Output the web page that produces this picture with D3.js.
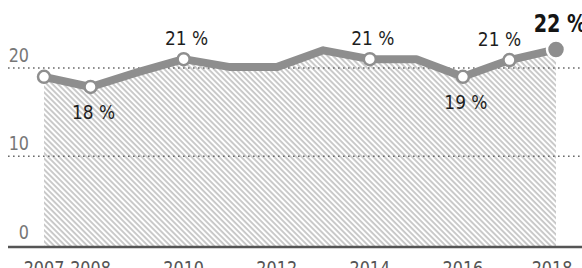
<!DOCTYPE html>
<html>
<head>
<meta charset="utf-8">
<script src="https://cdn.jsdelivr.net/npm/d3@7"></script>
<style>
  body { margin: 0; background: #fff; }
  svg { display: block; font-family: "DejaVu Sans", sans-serif; }
</style>
</head>
<body>
<div id="chart"></div>
<script>
// data
const years = [2007, 2008, 2009, 2010, 2011, 2012, 2013, 2014, 2015, 2016, 2017, 2018]
const values = [19.0, 17.85, 19.5, 21.0, 20.1, 20.1, 22.0, 21.0, 21.0, 19.0, 20.9, 22.1]
const markerYears = [2007, 2008, 2010, 2014, 2016, 2017]
const highlightYear = 2018
const valueLabels = [
    { year: 2008, text: "18 %", pos: "below" },
    { year: 2010, text: "21 %", pos: "above" },
    { year: 2014, text: "21 %", pos: "above" },
    { year: 2016, text: "19 %", pos: "below" },
    { year: 2017, text: "21 %", pos: "above" },
    { year: 2018, text: "22 %", pos: "top" }
]
const yTicks = [0, 10, 20]
const xTickLabels = [
    { at: 2007.5, text: "2007-2008" },
    { at: 2010, text: "2010" },
    { at: 2012, text: "2012" },
    { at: 2014, text: "2014" },
    { at: 2016, text: "2016" },
    { at: 2018, text: "2018" }
]

function drawChart() {
    var width = 582,
        height = 268,
        gray = "#8e8e8e";

    var svg = d3.select("#chart").append("svg")
        .attr("width", width)
        .attr("height", height)

    var x = d3.scaleLinear().domain([2007, 2018]).range([44, 556])
    var y = d3.scaleLinear().domain([0, 20]).range([244.5, 68])
    var baseY = y(0) + 2.5

    // condensed look: squeeze text horizontally
    let place = (px, py, k) => `translate(${px},${py}) scale(${k},1)`

    var data = years.map((yr, i) => ({ year: yr, value: values[i] }))

    // hatch pattern
    var pattern = svg.append("defs").append("pattern")
        .attr("id", "hatch")
        .attr("patternUnits", "userSpaceOnUse")
        .attr("width", 3.9)
        .attr("height", 10)
        .attr("patternTransform", "rotate(-45)")
    pattern.append("line")
        .attr("x1", 1).attr("x2", 1)
        .attr("y1", 0).attr("y2", 10)
        .attr("stroke", "#a8a8a8")
        .attr("stroke-width", 1.2)

    // area under the line
    svg.append("path")
        .datum(data)
        .attr("fill", "url(#hatch)")
        .attr("d", d3.area()
            .x(d => x(d.year))
            .y0(baseY)
            .y1(d => y(d.value)))

    // dotted grid lines
    svg.selectAll(".grid")
        .data(yTicks.filter(t => t > 0))
        .enter().append("line")
        .attr("class", "grid")
        .attr("x1", 8).attr("x2", width)
        .attr("y1", d => y(d)).attr("y2", d => y(d))
        .attr("stroke", "#6a6a6a")
        .attr("stroke-width", 1.6)
        .attr("stroke-dasharray", "1.6,3.4")

    // y tick labels
    svg.selectAll(".ytick")
        .data(yTicks)
        .enter().append("text")
        .attr("class", "ytick")
        .attr("transform", d => place(29, y(d) - 6, 0.8))
        .attr("text-anchor", "end")
        .attr("fill", "#777")
        .style("font-size", "20px")
        .text(d => d)

    // base axis line
    svg.append("line")
        .attr("x1", 8).attr("x2", width)
        .attr("y1", baseY).attr("y2", baseY)
        .attr("stroke", "#555")
        .attr("stroke-width", 2.5)

    // x labels (cut off at the bottom like the original)
    svg.selectAll(".xtick")
        .data(xTickLabels)
        .enter().append("text")
        .attr("class", "xtick")
        .attr("transform", d => place(x(d.at) - (d.at === 2018 ? 4 : 0), 274.5, 0.8))
        .attr("text-anchor", "middle")
        .attr("fill", "#555")
        .style("font-size", "20px")
        .text(d => d.text)

    // the line
    svg.append("path")
        .datum(data)
        .attr("fill", "none")
        .attr("stroke", gray)
        .attr("stroke-width", 8)
        .attr("stroke-linejoin", "round")
        .attr("d", d3.line()
            .x(d => x(d.year))
            .y(d => y(d.value)))

    // open markers
    svg.selectAll(".marker")
        .data(data.filter(d => markerYears.includes(d.year)))
        .enter().append("circle")
        .attr("class", "marker")
        .attr("cx", d => x(d.year))
        .attr("cy", d => y(d.value))
        .attr("r", 6)
        .attr("fill", "#fff")
        .attr("stroke", gray)
        .attr("stroke-width", 2.5)

    // last value dot
    var last = data.find(d => d.year === highlightYear)
    svg.append("circle")
        .attr("cx", x(last.year))
        .attr("cy", y(last.value))
        .attr("r", 9)
        .attr("fill", gray)
        .attr("stroke", "#fff")
        .attr("stroke-width", 2.5)

    // value labels
    svg.selectAll(".vlabel")
        .data(valueLabels)
        .enter().append("text")
        .attr("class", "vlabel")
        .attr("transform", d => {
            var v = data.find(e => e.year === d.year).value
            var ly = y(v) - 14
            if (d.pos === "below") ly = y(v) + 32
            if (d.pos === "top") ly = y(v) - 17
            var lx = x(d.year) + (d.year === 2017 ? -10 : d.pos === "top" ? 4 : 3)
            return place(lx, ly, d.pos === "top" ? 0.8 : 0.85)
        })
        .attr("text-anchor", "middle")
        .attr("fill", d => d.pos === "top" ? "#151515" : "#1e1e1e")
        .style("font-size", d => d.pos === "top" ? "24px" : "20px")
        .style("font-weight", d => d.pos === "top" ? "bold" : "normal")
        .text(d => d.text)
}

drawChart()
</script>
</body>
</html>
